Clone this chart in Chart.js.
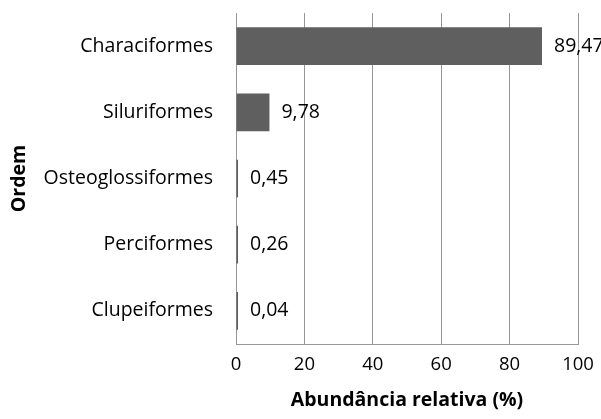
<!DOCTYPE html>
<html>
<head>
<meta charset="utf-8">
<script src="https://cdn.jsdelivr.net/npm/chart.js@4"></script>
<style>
  html, body { margin: 0; padding: 0; background: #fff; }
  #wrap { width: 601px; height: 419px; }
</style>
</head>
<body>
<div id="wrap"><canvas id="chart"></canvas></div>
<script>
// Ordens de peixes, abundância relativa (%)
const ordens = ['Characiformes', 'Siluriformes', 'Osteoglossiformes', 'Perciformes', 'Clupeiformes'];
const abundancia = [89.47, 9.78, 0.45, 0.26, 0.04];
const xTicks = [0, 20, 40, 60, 80, 100];

const FONT = '"Open Sans"';

// valores ao lado das barras, com vírgula decimal
const valueLabels = {
    id: 'valueLabels',
    afterDatasetsDraw(chart) {
        const ctx = chart.ctx;
        const meta = chart.getDatasetMeta(0);
        ctx.save();
        ctx.font = `19.5px ${FONT}`;
        ctx.fillStyle = '#000';
        ctx.textAlign = 'left';
        ctx.textBaseline = 'middle';
        meta.data.forEach((bar, i) => {
            const txt = abundancia[i].toFixed(2).replace('.', ',');
            ctx.fillText(txt, bar.x + 12, bar.y);
        });
        ctx.restore();
    },
};

new Chart(document.getElementById('chart'), {
    type: 'bar',
    data: {
        labels: ordens,
        datasets: [{
            data: abundancia,
            backgroundColor: '#5f5f5f',
            borderWidth: 0,
            minBarLength: 2,
            barPercentage: 0.57,
            categoryPercentage: 1,
        }],
    },
    options: {
        indexAxis: 'y',
        responsive: true,
        maintainAspectRatio: false,
        animation: false,
        layout: { padding: { top: 13, right: 23, left: 0, bottom: 0 } },
        plugins: {
            legend: { display: false },
            tooltip: { enabled: false },
        },
        scales: {
            x: {
                min: 0,
                max: 100,
                afterBuildTicks(scale) { scale.ticks = xTicks.map(v => ({ value: v })); },
                afterFit(scale) {
                    scale.height = 75;
                    scale.paddingLeft = 0;
                    scale.paddingRight = 0;
                },
                grid: { color: '#969696', lineWidth: 1, drawTicks: false },
                border: { display: true, color: '#969696' },
                ticks: { color: '#000', font: { family: FONT, size: 18.5 }, padding: 10 },
                title: {
                    display: true,
                    text: 'Abundância relativa (%)',
                    color: '#000',
                    font: { family: FONT, size: 19.5, weight: 'bold' },
                    padding: { top: 6, bottom: 7 },
                },
            },
            y: {
                afterFit(scale) {
                    scale.width = 236;
                    scale.paddingTop = 0;
                    scale.paddingBottom = 0;
                },
                grid: { display: false, drawTicks: false },
                border: { display: true, color: '#969696' },
                ticks: { color: '#000', font: { family: FONT, size: 19.5 }, padding: 23 },
                title: {
                    display: true,
                    text: 'Ordem',
                    color: '#000',
                    font: { family: FONT, size: 19.5, weight: 'bold' },
                    padding: { top: 8, bottom: 0 },
                },
            },
        },
    },
    plugins: [valueLabels],
});
</script>
</body>
</html>
